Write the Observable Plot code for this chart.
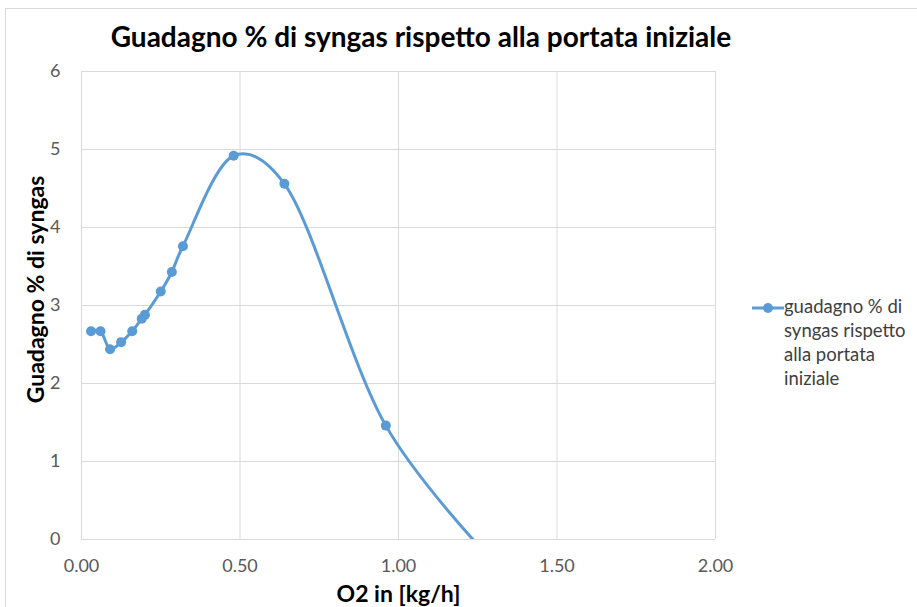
<!DOCTYPE html>
<html><head><meta charset="utf-8">
<script src="https://cdn.jsdelivr.net/npm/d3@7"></script>
<script src="https://cdn.jsdelivr.net/npm/@observablehq/plot@0.6"></script>
<style>
body{margin:0;background:#fff;}
#wrap{position:relative;width:917px;height:607px;overflow:hidden;font-family:Lato,"Open Sans",sans-serif;}
#border{position:absolute;left:5px;top:8px;width:920px;height:610px;border:1px solid #d9d9d9;box-sizing:border-box;}
#title{position:absolute;left:0;width:842px;top:19px;text-align:center;font-weight:bold;font-size:28px;color:#000;}
#legend{position:absolute;left:752px;top:294px;font-size:18.5px;color:#404040;line-height:24px;}
#legend .txt{position:absolute;left:32px;top:0;width:128px;}
svg{position:absolute;left:0;top:0;}
</style></head>
<body><div id="wrap"><div id="border"></div><div id="title"></div><div id="legend"></div></div>
<script>
const o2 = [0.03, 0.06, 0.09, 0.125, 0.16, 0.19, 0.2, 0.25, 0.285, 0.32, 0.48, 0.64, 0.96, 1.28];
const gain = [2.67, 2.67, 2.44, 2.53, 2.67, 2.83, 2.88, 3.18, 3.43, 3.76, 4.92, 4.56, 1.46, -0.2];
const xTicks = [0, 0.5, 1, 1.5, 2];
const yTicks = [0, 1, 2, 3, 4, 5, 6];
const titleText = "Guadagno % di syngas rispetto alla portata iniziale";
const seriesName = "guadagno % di syngas rispetto alla portata iniziale";
const xLabel = "O2 in [kg/h]";
const yLabel = "Guadagno % di syngas";
const color = "#5B9BD5";

const data = o2.map((x, i) => ({x, y: gain[i]}));

const chart = Plot.plot({
  width: 917, height: 607,
  marginLeft: 81, marginRight: 202, marginTop: 71, marginBottom: 68,
  style: {fontFamily: "Lato, 'Open Sans', sans-serif", fontSize: "18px", background: "transparent"},
  x: {domain: [0, 2]},
  y: {domain: [0, 6]},
  marks: [
    Plot.gridX(xTicks, {stroke: "#d9d9d9", strokeOpacity: 1}),
    Plot.gridY(yTicks, {stroke: "#d9d9d9", strokeOpacity: 1}),
    Plot.ruleY([0], {stroke: "#d9d9d9"}),
    Plot.axisX({ticks: xTicks, tickFormat: d3.format(".2f"), tickSize: 0, tickPadding: 20, fill: "#595959", fontSize: 18,
      label: xLabel, labelAnchor: "center", labelArrow: "none", labelOffset: 62}),
    Plot.axisY({ticks: yTicks, tickFormat: d => String(d), tickSize: 0, tickPadding: 21, fill: "#595959", fontSize: 18,
      label: yLabel, labelAnchor: "center", labelArrow: "none", labelOffset: 54}),
    Plot.line(data, {x: "x", y: "y", stroke: color, strokeWidth: 3, curve: "catmull-rom", tension: 0.3, clip: true}),
    Plot.dot(data, {x: "x", y: "y", fill: color, r: 5, clip: true})
  ]
});
document.getElementById("wrap").appendChild(chart);
document.getElementById("title").textContent = titleText;

// axis label styling
d3.select(chart).selectAll("[aria-label='x-axis label'] text, [aria-label='y-axis label'] text")
  .attr("font-weight", "bold").attr("font-size", 23).attr("fill", "#000");
d3.select(chart).selectAll("[aria-label='y-axis label']")
  .attr("transform", function() { return "translate(0,-16) " + (this.getAttribute("transform") || ""); });

// legend
const lg = document.getElementById("legend");
const sw = d3.create("svg").attr("width", 34).attr("height", 20).style("position","absolute").style("left","0px").style("top","4px");
sw.append("line").attr("x1",0).attr("x2",32).attr("y1",10).attr("y2",10).attr("stroke",color).attr("stroke-width",3);
sw.append("circle").attr("cx",16).attr("cy",10).attr("r",5).attr("fill",color);
lg.appendChild(sw.node());
const t = document.createElement("div"); t.className = "txt"; t.textContent = seriesName; lg.appendChild(t);
</script>
</body></html>
